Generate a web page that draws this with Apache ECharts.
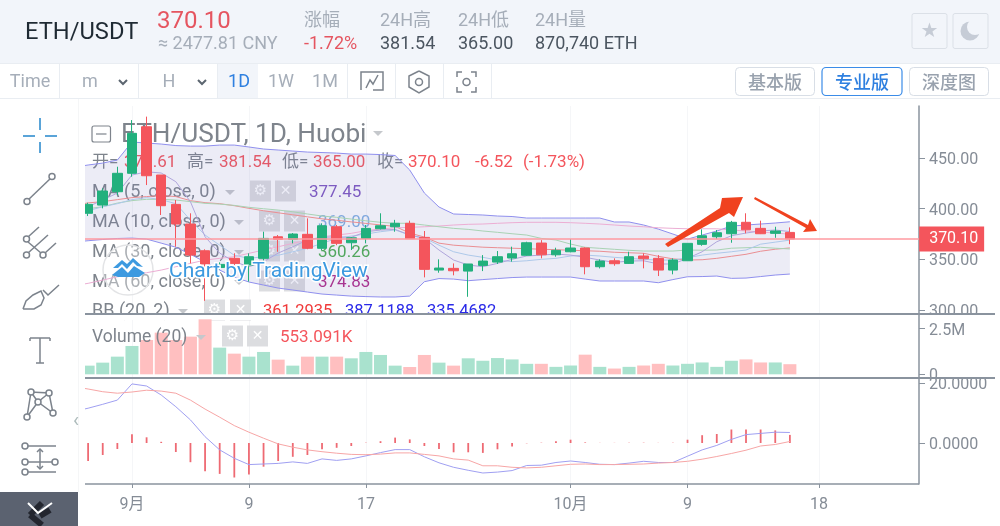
<!DOCTYPE html>
<html>
<head>
<meta charset="utf-8">
<script src="https://cdn.jsdelivr.net/npm/echarts@6/dist/echarts.min.js"></script>
<style>
  html, body { margin: 0; padding: 0; background: #fff; }
  #chart { width: 1000px; height: 526px; }
</style>
</head>
<body>
<div id="chart"></div>
<script>
// the first day sits behind the toolbar, only its line values peek out at the left edge
const dates = ['8/28','8/29','8/30','8/31','9/1','9/2','9/3','9/4','9/5','9/6','9/7','9/8','9/9','9/10','9/11','9/12','9/13','9/14','9/15','9/16','9/17','9/18','9/19','9/20','9/21','9/22','9/23','9/24','9/25','9/26','9/27','9/28','9/29','9/30','10/1','10/2','10/3','10/4','10/5','10/6','10/7','10/8','10/9','10/10','10/11','10/12','10/13','10/14','10/15','10/16','10/17','10/18','10/19','10/20','10/21','10/22','10/23','10/24'];
const tickLabels = { '9/1': '9月', '9/9': '9', '9/17': '17', '10/1': '10月', '10/9': '9', '10/18': '18' };

// open, close, low, high
const candles = [
  ['-','-','-','-'],
  [395.5,404.3,392.8,405.9],[403.6,417.5,400.4,420.2],[416.8,435,413.5,441.5],[435,474.5,431.6,487.6],[481,432.6,423.4,491],
  [433.3,403,393.8,433.3],[404.3,384.9,362.5,408.6],[384.9,354.2,346,395.5],[358.5,345.4,309,359.9],[342,345,340,347],
  [351,346,344,356],[344.4,352.6,328,355.9],[351,370.7,347.7,377.3],[372.3,369.8,357.5,374],[369.8,375,365.8,376],
  [374.7,360.9,360,390.5],[360.9,383.2,359.2,385.6],[382.2,365.8,364,384],[366.4,371.3,359.2,372],[370.7,380.6,365.8,383.9],
  [380.2,383.2,379.5,395.5],[382.2,385.6,377.3,389],[385.6,370.4,370.4,388.2],[371.7,340.1,332.2,378],[339.4,341.4,336.8,350],
  [341.1,338.7,334.2,346],[338.4,345.4,313,345.4],[344,348.3,338.4,354.2],[347.3,352.6,345.4,358.2],[351.3,355.5,347.7,362.5],
  [354,366.4,353.5,367.4],[366.1,354.5,351,369],[354.5,358.9,352.6,361.5],[357.5,361.2,357,370],[361.2,342.7,335.2,361.8],
  [342.7,348.3,341,350],[348.6,345.7,343.7,351],[346,352.6,345.5,357.5],[353.3,350.6,341.1,356],[351,339.4,333.5,354.2],
  [339.4,349.3,335.2,351],[348.6,365.8,348.6,365.8],[364.8,373.3,363.4,379.6],[372.3,376.3,370,379],[375.3,386.6,366.4,388],
  [386.6,379.2,375.7,395.5],[380.6,375.3,375,388.2],[375.7,378,371.3,382.2],[376.61,370.10,365,381.54]
];
const lastPrice = 370.10;
const volumes = ['-',474,638,966,1550,1878,2279,1878,2060,3009,1459,1130,966,1222,802,474,966,966,966,875,1222,1058,474,401,1058,638,474,875,741,889,815,574,574,407,481,1074,407,315,407,481,574,481,574,648,407,741,815,648,648,553.091];

const bbUpper = [441,443.2,445.1,448.1,465.9,464.9,463.9,462.4,461.9,461.9,462.9,462.9,461,459,458,457,456,455.5,455,454,454,453.5,452.6,438.2,415.5,401.7,394.8,394.3,393.8,392.8,392.3,390.8,390.8,390.8,390.8,390.8,390.8,386.9,386.9,383.9,379.9,375,370,374,378,382.9,383.9,384.9,385.9,387.12];
const bbLower = [367,368.4,369.6,370.6,371,370,366,362,355,347.3,339.4,332.5,327.6,324.6,321.6,319.7,317.7,315.7,314.7,313.7,313.2,312.8,312.8,313.7,327.9,331,330.5,328.9,330,331,332,332.5,332.5,332.5,332.5,330.5,328.6,328.6,328.6,328.6,326.9,330,332.8,333,333.5,331.2,331.5,333,334.5,335.47];
const bbBasis = [403,405.8,407,409,411,412,413,412,408,406,405,403,400.4,398,396,394,392,390,388.6,387,385.5,384,382.5,376,372,366,364,363,362,361.5,361,360.5,360,359.5,359,358.5,358,357,356.5,356,353,350.5,349.3,349.6,351,353,355,358,360,361.29];
const ma5 = [398,402,408.6,415.5,433.3,436.5,435.3,426.7,406.9,372.3,356.2,347.6,342.7,347.6,356.2,362.4,369.1,371.7,372.3,371.7,377.3,378.9,379.6,374,370.7,359.2,349.3,344.4,342.7,346,350,353.3,354.2,355.2,354.2,352,349.3,347,348.3,348.6,345.4,345.4,351,357.5,367.4,373.3,376,378,379,377.45];
const ma10 = [395,398,402,405,409,411,409,405,388.8,374,364,354,351,352.6,354,357.5,360.9,365.8,370.7,373,375,377.3,379,374,371,364,357.5,354.2,352,349.3,347.7,348.6,350,351,353.3,354.2,353.3,352,351,350,349.3,349.3,351.6,354.2,356,357.5,359.2,365,367,369];
const ma30 = [398,400,402,405.6,408,409.3,409.3,408.6,407,405.3,404.6,403.3,401.4,400,398.7,397,394.8,392.8,391.5,389.8,388.1,386.6,385.6,385.6,383.9,382.2,380.6,379.6,378,376.7,375.3,374,370.7,369.1,365.1,361.9,360.9,359.9,358.9,358.2,358.2,358.2,359.2,359,359.2,361,361.5,361.9,361,360.26];
const ma60 = [324,326.3,329.5,332.8,334.5,336.8,339.4,342.7,346,349.3,351,352.6,355.9,359.2,362.4,365.8,369,372.3,374,375.7,378.3,380,381.2,381.6,382.2,382.9,383.9,384.6,384.9,385.6,386.2,386.6,386.6,386.6,386.2,385.6,384.9,383.9,382.9,382.2,381.2,380.6,380.2,380.2,380.2,379,378,377,376,374.83];

const macdLine = [10.5,11.6,12.9,14.3,19.7,19,16,12.1,7.7,2.1,-2.3,-5.1,-7.2,-7,-6.8,-6.3,-6.8,-5.3,-5.8,-5.3,-4.3,-3.2,-2.2,-2.2,-4.6,-6.6,-8.1,-9.1,-10,-9.7,-9.2,-7.5,-7.4,-6.5,-6,-6.5,-7.1,-7.2,-6.7,-6.1,-6.5,-6.5,-4.4,-2.3,-0.8,1.2,2.8,3.2,3.6,3.5];
const macdSignal = [18.8,18,17.1,16.6,17,17.6,17.3,16.6,14.3,11.3,8.6,5.8,3.6,1.6,-0.3,-1.4,-2.3,-2.9,-3.4,-3.8,-3.9,-3.7,-3.3,-3.3,-3.8,-4.3,-5.3,-5.7,-7.6,-7.6,-8.1,-8.3,-8.1,-7.6,-7.1,-7,-7.2,-7.2,-7.1,-7,-6.7,-6.5,-6.1,-5.4,-4.5,-3.5,-2.4,-1,-0.5,0.5];
const macdHist = ['-',-6,-4,-2,2.9,1.9,0.4,-3,-6.4,-9.4,-10.3,-11.5,-10.5,-7.9,-6,-4.6,-4,-2.1,-1.6,-1,0.1,0.6,1.8,1.2,-1,-2,-3.1,-3.1,-3.3,-2.1,-1.2,-0.1,0.1,0.6,1.1,0.2,0.05,0.05,0.1,0.1,0.05,0.1,1.1,2.6,3,4.5,4.5,4.5,4.2,2.7];

const yTicksPrice = [300, 350, 400, 450];
const yTicksVolume = [0, 2500];
const yTicksMacd = [0, 20];

const green = '#22b07d';
const red = '#f4555c';
const priceLine = '#ff9aa0';
const axisGrey = '#8a939e';
const labelGrey = '#858c96';
const faint = '#f5f6f8';
const font = 'Roboto, "Noto Sans CJK SC", sans-serif';
const cjk = '"Noto Sans CJK SC", sans-serif';

// graphic helpers
function text(x, y, str, size, fill, opt) {
  opt = opt || {};
  return {
    type: 'text', z: opt.z === undefined ? 20 : opt.z, silent: true,
    style: {
      x, y: y + 1.5, text: str, fill,
      font: (opt.weight || 'normal') + ' ' + size + 'px ' + (opt.family || font),
      textAlign: opt.align || 'left', textVerticalAlign: 'middle',
      stroke: opt.stroke, lineWidth: opt.lineWidth
    }
  };
}
function rect(x, y, w, h, fill, opt) {
  opt = opt || {};
  return {
    type: 'rect', z: opt.z === undefined ? 15 : opt.z, silent: true,
    shape: { x, y, width: w, height: h, r: opt.r || 0 },
    style: { fill, stroke: opt.stroke, lineWidth: opt.lineWidth || 1 }
  };
}
function line(x1, y1, x2, y2, stroke, width, z) {
  return {
    type: 'line', z: z === undefined ? 20 : z, silent: true,
    shape: { x1, y1, x2, y2 }, style: { stroke, lineWidth: width || 1 }
  };
}
function poly(points, fill, z, smooth) {
  return {
    type: 'polygon', z: z === undefined ? 20 : z, silent: true,
    shape: { points, smooth: smooth || 0 }, style: { fill }
  };
}
function polyline(points, stroke, width, z) {
  return {
    type: 'polyline', z: z === undefined ? 20 : z, silent: true,
    shape: { points }, style: { stroke, lineWidth: width || 1.5, fill: 'none' }
  };
}
function ring(cx, cy, r, stroke, fill, z) {
  return {
    type: 'circle', z: z === undefined ? 20 : z, silent: true,
    shape: { cx, cy, r }, style: { stroke, fill: fill || '#fff', lineWidth: 1.5 }
  };
}

const headerBg = '#f2f5fa';
const headGrey = '#a6aeb9';
const headDark = '#4b5560';
const toolBorder = '#e9edf2';
const blue = '#2f80e0';
const iconGrey = '#7c838c';

const header = [
  rect(0, 0, 1000, 63, headerBg),
  rect(0, 63, 1000, 36, '#fff'),
  line(0, 63.5, 1000, 63.5, toolBorder),
  line(0, 98.5, 1000, 98.5, toolBorder),
  rect(218, 64, 40, 34, headerBg, { z: 16 }),
  text(25, 32, 'ETH/USDT', 23.7, '#1f2a33'),
  text(157, 20, '370.10', 24, '#e55560'),
  text(158, 43, '≈ 2477.81 CNY', 18, headGrey),
  text(304, 20, '涨幅', 18, headGrey),
  text(304, 43, '-1.72%', 18, '#e55560'),
  text(380, 20, '24H高', 18, headGrey),
  text(380, 43, '381.54', 18, headDark),
  text(458, 20, '24H低', 18, headGrey),
  text(458, 43, '365.00', 18, headDark),
  text(535, 20, '24H量', 18, headGrey),
  text(535, 43, '870,740 ETH', 18, headDark),
  rect(912, 13.5, 35, 35, headerBg, { stroke: '#dbe0e7', r: 2 }),
  rect(953, 13.5, 35, 35, headerBg, { stroke: '#dbe0e7', r: 2 }),
  text(929.5, 30, '★', 20, '#c6ccd6', { align: 'center', family: '"DejaVu Sans"' }),
  { type: 'circle', z: 20, silent: true, shape: { cx: 970, cy: 31, r: 9.5 }, style: { fill: '#c6ccd6' } },
  { type: 'circle', z: 21, silent: true, shape: { cx: 975, cy: 27, r: 8 }, style: { fill: headerBg } },

  text(30, 81, 'Time', 18, headGrey, { align: 'center' }),
  text(90, 81, 'm', 18, headGrey, { align: 'center' }),
  polyline([[119, 80], [123, 84], [127, 80]], '#5c6670', 2),
  text(169, 81, 'H', 18, headGrey, { align: 'center' }),
  polyline([[198, 80], [202, 84], [206, 80]], '#5c6670', 2),
  text(239, 81, '1D', 18, blue, { align: 'center' }),
  text(281, 81, '1W', 18, headGrey, { align: 'center' }),
  text(325, 81, '1M', 18, headGrey, { align: 'center' }),
  line(59.5, 64, 59.5, 98, toolBorder),
  line(138.5, 64, 138.5, 98, toolBorder),
  line(217.5, 64, 217.5, 98, toolBorder),
  line(347.5, 64, 347.5, 98, toolBorder),
  line(395.5, 64, 395.5, 98, toolBorder),
  line(443.5, 64, 443.5, 98, toolBorder),
  line(491.5, 64, 491.5, 98, toolBorder),
  polyline([[361, 90], [361, 72], [383, 72], [383, 90], [373, 90]], iconGrey, 1.5),
  polyline([[366, 88], [370, 80], [373, 84], [378, 75]], iconGrey, 1.5),
  polyline([[419, 71], [429, 76], [429, 87], [419, 93], [409, 87], [409, 76], [419, 71]], iconGrey, 1.5),
  ring(419, 82, 3.5, iconGrey, '#fff'),
  polyline([[457, 77], [457, 72], [462, 72]], iconGrey, 1.5),
  polyline([[471, 72], [476, 72], [476, 77]], iconGrey, 1.5),
  polyline([[476, 87], [476, 92], [471, 92]], iconGrey, 1.5),
  polyline([[462, 92], [457, 92], [457, 87]], iconGrey, 1.5),
  ring(466.5, 82, 3.5, iconGrey, '#fff'),

  rect(735.5, 67.5, 79, 28, '#fff', { stroke: '#d8dee6', r: 4 }),
  rect(822, 67.5, 80, 28, '#fff', { stroke: '#3b8ce8', r: 4, lineWidth: 1.2 }),
  rect(909.5, 67.5, 79, 28, '#fff', { stroke: '#d8dee6', r: 4 }),
  text(775, 81, '基本版', 18, '#99a2ae', { align: 'center', family: cjk, weight: 500 }),
  text(862, 81, '专业版', 18, blue, { align: 'center', family: cjk, weight: 500 }),
  text(949, 81, '深度图', 18, '#99a2ae', { align: 'center', family: cjk, weight: 500 })
];

const sidebar = [
  rect(0, 99, 85, 427, '#fff', { z: 14 }),
  line(78.5, 99, 78.5, 492, '#f5f6f7', 1, 15),
  line(23, 136, 35, 136, '#5aa4d8', 2),
  line(45, 136, 57, 136, '#5aa4d8', 2),
  line(40, 118, 40, 130, '#5aa4d8', 2),
  line(40, 142, 40, 153, '#5aa4d8', 2),
  line(27, 201, 52, 177, iconGrey, 1.5),
  ring(27, 201.5, 3, iconGrey), ring(52, 176.5, 3, iconGrey),
  line(28, 237, 39, 227, iconGrey, 1.5),
  line(28, 253, 48, 235, iconGrey, 1.5),
  line(45, 253, 56, 243, iconGrey, 1.5),
  line(28, 242, 41, 253, iconGrey, 1.5),
  ring(26.5, 239, 3, iconGrey), ring(26.5, 255, 3, iconGrey), ring(43, 255, 3, iconGrey),
  polyline([[23, 309], [26, 301], [33, 295], [41, 291], [44, 298], [41, 305], [34, 309], [23, 309]], iconGrey, 1.5),
  polyline([[43, 290], [48, 295], [59, 285]], iconGrey, 1.5),
  line(30, 338, 50, 338, iconGrey, 1.5),
  line(30, 338, 30, 341, iconGrey, 1.5),
  line(50, 338, 50, 341, iconGrey, 1.5),
  line(40, 338, 40, 363, iconGrey, 1.5),
  line(36, 363, 44, 363, iconGrey, 1.5),
  polyline([[31, 392], [27, 417], [38, 402], [31, 392], [49, 393], [38, 402], [53, 413], [49, 393]], iconGrey, 1.5),
  ring(31, 392, 3, iconGrey), ring(49, 393, 3, iconGrey), ring(38, 402, 3, iconGrey),
  ring(27, 417, 3, iconGrey), ring(53, 413, 3, iconGrey),
  line(25, 446, 56, 446, iconGrey, 1.5),
  line(25, 462, 55, 462, iconGrey, 1.5),
  line(25, 472, 56, 472, iconGrey, 1.5),
  line(40, 449, 40, 469, iconGrey, 1.5),
  polyline([[37, 452], [40, 449], [43, 452]], iconGrey, 1.5),
  polyline([[37, 466], [40, 469], [43, 466]], iconGrey, 1.5),
  ring(25, 446, 3, iconGrey), ring(25, 462, 3, iconGrey), ring(55, 462, 3, iconGrey), ring(25, 472, 3, iconGrey),
  text(76, 420, '‹', 20, '#aebcbc', { align: 'center', z: 20 }),
  rect(0, 492, 78, 34, '#5b6270', { z: 16 }),
  line(30, 515, 42, 503, '#23262f', 6, 18),
  line(30, 515, 42, 525, '#23262f', 6, 18),
  line(40, 516, 50, 510, '#23262f', 6, 18),
  polyline([[28, 503], [38, 513], [52, 503]], '#fff', 2, 19)
];

// pane legends sit under the candles, like the original chart
const legendGrey = '#7e848c';
function toolBoxes(x1, x2, y) {
  return [
    rect(x1, y - 10.5, 21, 21, '#dcdde0', { z: 1 }),
    text(x1 + 10.5, y - 1.5, '⚙', 15, '#fff', { align: 'center', family: '"DejaVu Sans"', z: 1.2 }),
    rect(x2, y - 10.5, 21, 21, '#dcdde0', { z: 1 }),
    text(x2 + 10.5, y - 1.5, '✕', 14, '#fff', { align: 'center', family: '"DejaVu Sans"', z: 1.2 })
  ];
}
function caret(x, y) {
  return poly([[x - 5, y - 2], [x + 5, y - 2], [x, y + 3]], '#c5c8cc', 1.2);
}
function legendLine(x, y, label, size, color) {
  return text(x, y, label, size, color, { z: 1.2 });
}

const legends = [
  rect(92, 126, 18.5, 16, '#fff', { z: 1.2, stroke: legendGrey, lineWidth: 1.2, r: 2 }),
  line(96, 134, 106.5, 134, legendGrey, 1.2, 1.2),
  legendLine(121, 134, 'ETH/USDT, 1D, Huobi', 26.2, legendGrey),
  caret(378, 133),
  legendLine(92, 161, '开=', 17, legendGrey),
  legendLine(124, 161, '376.61', 17, red),
  legendLine(187, 161, '高=', 17, legendGrey),
  legendLine(219, 161, '381.54', 17, red),
  legendLine(282, 161, '低=', 17, legendGrey),
  legendLine(313, 161, '365.00', 17, red),
  legendLine(377, 161, '收=', 17, legendGrey),
  legendLine(408, 161, '370.10', 17, red),
  legendLine(475, 161, '-6.52', 17, red),
  legendLine(523, 161, '(-1.73%)', 17, red),

  legendLine(92, 191, 'MA (5, close, 0)', 18, legendGrey), caret(230, 192),
  ...toolBoxes(250, 275, 191),
  legendLine(309, 191, '377.45', 17, '#7e57c2'),
  legendLine(92, 221, 'MA (10, close, 0)', 18, legendGrey), caret(239, 222),
  ...toolBoxes(259, 284, 221),
  legendLine(318, 221, '369.00', 17, '#82b1e4'),
  legendLine(92, 251, 'MA (30, close, 0)', 18, legendGrey), caret(239, 252),
  ...toolBoxes(259, 284, 251),
  legendLine(318, 251, '360.26', 17, '#4caf50'),
  legendLine(92, 281, 'MA (60, close, 0)', 18, legendGrey), caret(239, 282),
  ...toolBoxes(259, 284, 281),
  legendLine(318, 281, '374.83', 17, '#b02a8a'),
  legendLine(92, 310, 'BB (20, 2)', 18, legendGrey), caret(183, 311),
  ...toolBoxes(204, 230, 310),
  legendLine(263, 310, '361.2935', 16.5, '#f03a3a'),
  legendLine(345, 310, '387.1188', 16.5, '#2a2ae8'),
  legendLine(427, 310, '335.4682', 16.5, '#2a2ae8'),
  rect(85, 314.5, 834, 5.5, '#fff', { z: 1.5 }),

  legendLine(92, 336, 'Volume (20)', 17.5, legendGrey), caret(201, 337),
  ...toolBoxes(222, 247, 336),
  legendLine(280, 336, '553.091K', 17, red)
];
// volume legend has to sit above its bars' pale fill
legends.slice(-7).forEach((el) => { el.z = el.type === 'rect' ? 5 : 5.2; });

const logo = [
  ring(128, 270, 25, '#e3e4e6', 'rgba(255,255,255,0.35)', 1.3),
  poly([[113, 268], [122, 260], [127, 264], [133, 258], [143, 267], [137, 266], [133, 262], [127, 269], [122, 264], [118, 268]], '#3d9ae0', 10),
  poly([[112, 275], [122, 267], [128, 273], [134, 266], [145, 273], [139, 277], [118, 277]], '#3d9ae0', 10),
  text(169, 270, 'Chart by TradingView', 21, '#3d9ae0', { z: 10, stroke: '#fff', lineWidth: 3 })
];

const arrows = [
  poly([[665, 244], [720, 208], [722, 198], [743, 197], [734, 217], [729, 213], [668, 247]], '#f0421f', 12),
  poly([[755, 197], [808, 225], [810, 219], [817, 231], [803, 232], [806, 228], [754, 199]], '#f0421f', 12)
];

const frame = [
  rect(925, 314.5, 75, 5.5, '#fff', { z: 3 }),
  rect(920, 378.5, 80, 14, '#fff', { z: 3 }),
  line(85, 314, 995, 314, axisGrey, 2, 6),
  line(85, 378, 995, 378, axisGrey, 2, 6),
  line(85, 484, 919, 484, axisGrey, 1.5, 6),
  line(914, 239, 919, 239, priceLine, 1.5, 6)
];

const showTick = (idx) => tickLabels[dates[idx]] !== undefined;

const xBase = {
  type: 'category', data: dates, boundaryGap: true,
  axisLine: { show: false, onZero: false },
  axisTick: { show: false },
  axisLabel: { show: false },
  splitLine: { show: true, interval: showTick, alignWithLabel: true, lineStyle: { color: faint } }
};

function bbLineStyle() {
  return { color: '#9090ee', width: 1 };
}
function maSeries(name, data, color, z) {
  return {
    name, type: 'line', data, symbol: 'none', z: z || 3, silent: true,
    lineStyle: { color, width: 1 }
  };
}
// rich label with a top pad drops the text a little under its tick, as in the original
function yLabel(customValues, format) {
  return {
    customValues, margin: 10,
    formatter: (v) => '{a|' + format(v) + '}',
    rich: { a: { fontSize: 16, color: labelGrey, fontFamily: font, padding: [4, 0, 0, 0] } }
  };
}

const chart = echarts.init(document.getElementById('chart'), null, { renderer: 'canvas' });
chart.setOption({
  animation: false,
  backgroundColor: '#fff',
  textStyle: { fontFamily: font },
  grid: [
    { left: 66.18, top: 106, width: 847.96, height: 208 },
    { left: 66.18, top: 314, width: 847.96, height: 64 },
    { left: 66.18, top: 378, width: 847.96, height: 106 }
  ],
  xAxis: [
    { ...xBase, gridIndex: 0 },
    { ...xBase, gridIndex: 1 },
    {
      ...xBase, gridIndex: 2,
      axisTick: { show: true, interval: showTick, alignWithLabel: true, length: 4, lineStyle: { color: axisGrey } },
      axisLabel: {
        show: true, interval: showTick, margin: 13, fontSize: 16, color: labelGrey,
        fontFamily: font,
        formatter: (value) => tickLabels[value] || ''
      }
    }
  ],
  yAxis: [
    {
      gridIndex: 0, type: 'value', position: 'right', offset: 4.86, min: 296, max: 501.5, z: 2,
      axisLine: { show: true, onZero: false, lineStyle: { color: axisGrey, width: 1.5 } },
      axisTick: { show: true, length: 6, customValues: yTicksPrice, lineStyle: { color: axisGrey } },
      axisLabel: yLabel(yTicksPrice, (v) => v.toFixed(2)),
      splitLine: { show: false }
    },
    {
      gridIndex: 1, type: 'value', position: 'right', offset: 4.86, min: -202.4, max: 3298.7, z: 2,
      axisLine: { show: true, onZero: false, lineStyle: { color: axisGrey, width: 1.5 } },
      axisTick: { show: true, length: 6, customValues: yTicksVolume, lineStyle: { color: axisGrey } },
      axisLabel: yLabel(yTicksVolume, (v) => (v === 0 ? '0' : (v / 1000) + 'M')),
      splitLine: { show: false }
    },
    {
      gridIndex: 2, type: 'value', position: 'right', offset: 4.86, min: -13.67, max: 21.67, z: 4,
      axisLine: { show: true, onZero: false, lineStyle: { color: axisGrey, width: 1.5 } },
      axisTick: { show: true, length: 6, customValues: yTicksMacd, lineStyle: { color: axisGrey } },
      axisLabel: yLabel(yTicksMacd, (v) => v.toFixed(4)),
      splitLine: { show: false }
    }
  ],
  series: [
    {
      name: 'BB lower', type: 'line', data: bbLower, stack: 'bb', symbol: 'none', z: 2, silent: true,
      lineStyle: bbLineStyle()
    },
    {
      name: 'BB upper', type: 'line', data: bbUpper.map((v, i) => v - bbLower[i]), stack: 'bb', symbol: 'none', z: 2, silent: true,
      lineStyle: bbLineStyle(),
      areaStyle: { color: 'rgba(120,120,190,0.2)' }
    },
    maSeries('BB basis', bbBasis, '#ea8f93'),
    maSeries('MA60', ma60, '#ecaed4'),
    maSeries('MA30', ma30, '#a9d3b4'),
    maSeries('MA10', ma10, '#aec9ea'),
    maSeries('MA5', ma5, '#b0a6dc'),
    {
      name: 'ETH/USDT', type: 'candlestick', data: candles, barWidth: 10, z: 4,
      itemStyle: { color: green, color0: red, borderColor: green, borderColor0: red, borderWidth: 1 },
      markLine: {
        silent: true, symbol: 'none', animation: false,
        data: [{ yAxis: lastPrice, lineStyle: { color: priceLine, opacity: 1, type: 'solid', width: 1.5 } }],
        label: {
          show: true, position: 'end', distance: 5, formatter: lastPrice.toFixed(2),
          backgroundColor: red, color: '#fff', fontSize: 16, fontFamily: font,
          width: 55, height: 25, lineHeight: 27, align: 'left', padding: [0, 0, 0, 10]
        }
      }
    },
    {
      name: 'Volume', type: 'bar', xAxisIndex: 1, yAxisIndex: 1, data: volumes, barWidth: 13, z: 3, silent: true,
      itemStyle: {
        color: (p) => {
          const c = candles[p.dataIndex];
          return c[1] >= c[0] ? '#a9e2ce' : '#ffbfc0';
        }
      }
    },
    {
      name: 'Hist', type: 'bar', xAxisIndex: 2, yAxisIndex: 2, data: macdHist, barWidth: 1.8, z: 2, silent: true,
      itemStyle: { color: '#ee6a73' }
    },
    { name: 'MACD', type: 'line', xAxisIndex: 2, yAxisIndex: 2, data: macdLine, symbol: 'none', z: 3, silent: true, lineStyle: { color: '#a0a0f2', width: 1 } },
    { name: 'Signal', type: 'line', xAxisIndex: 2, yAxisIndex: 2, data: macdSignal, symbol: 'none', z: 3, silent: true, lineStyle: { color: '#f7a6a6', width: 1 } }
  ],
  graphic: { elements: [...legends, ...logo, ...arrows, ...frame, ...sidebar, ...header] }
});
</script>
</body>
</html>
